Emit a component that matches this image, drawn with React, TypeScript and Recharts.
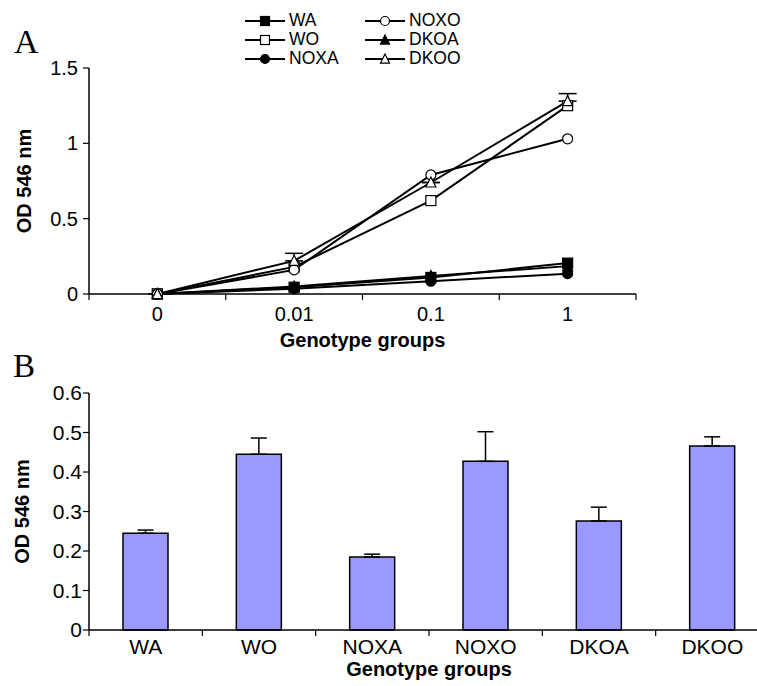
import { LineChart, Line, BarChart, Bar, XAxis, YAxis, ErrorBar, Legend } from 'recharts'

const concentrations = ['0', '0.01', '0.1', '1']
const waValues = [0, 0.045, 0.11, 0.205]
const woValues = [0, 0.18, 0.62, 1.25]
const noxaValues = [0, 0.035, 0.085, 0.135]
const noxoValues = [0, 0.16, 0.79, 1.03]
const dkoaValues = [0, 0.05, 0.12, 0.185]
const dkooValues = [0, 0.22, 0.74, 1.28]
const dkooErrors = [0, 0.05, 0, 0.05]
const odTicksA = [0, 0.5, 1, 1.5]

const genotypes = ['WA', 'WO', 'NOXA', 'NOXO', 'DKOA', 'DKOO']
const meanOd = [0.245, 0.445, 0.185, 0.427, 0.276, 0.466]
const sdOd = [0.008, 0.041, 0.007, 0.075, 0.035, 0.023]
const odTicksB = [0, 0.1, 0.2, 0.3, 0.4, 0.5, 0.6]

type Shape = 'square' | 'circle' | 'triangle'

const series: { key: string; values: number[]; shape: Shape; filled: boolean }[] = [
  { key: 'WA', values: waValues, shape: 'square', filled: true },
  { key: 'WO', values: woValues, shape: 'square', filled: false },
  { key: 'NOXA', values: noxaValues, shape: 'circle', filled: true },
  { key: 'NOXO', values: noxoValues, shape: 'circle', filled: false },
  { key: 'DKOA', values: dkoaValues, shape: 'triangle', filled: true },
  { key: 'DKOO', values: dkooValues, shape: 'triangle', filled: false },
]

const FONT = '"Liberation Sans", Arial, sans-serif'
const GREY = '#8a8a8a'

// category i sits at i + 0.5 on a numeric axis so tick marks can fall between groups
const lineData = concentrations.map((c, i) => {
  const row: Record<string, unknown> = { pos: i + 0.5, conc: c, dkooErr: [0, dkooErrors[i]] }
  series.forEach(s => { row[s.key] = s.values[i] })
  return row
})

const barData = genotypes.map((g, i) => ({ pos: i + 0.5, group: g, od: meanOd[i], err: [0, sdOd[i]] }))

const halfSteps = (n: number) => Array.from({ length: 2 * n + 1 }, (_, i) => i / 2)

function Marker({ cx, cy, shape, filled, size = 10 }: { cx: number; cy: number; shape: Shape; filled: boolean; size?: number }) {
  const fill = filled ? '#000' : '#fff'
  const h = size / 2
  if (shape === 'square') {
    return <rect x={cx - h} y={cy - h} width={size} height={size} fill={fill} stroke="#000" strokeWidth={1.2} />
  }
  if (shape === 'circle') {
    return <circle cx={cx} cy={cy} r={h} fill={fill} stroke="#000" strokeWidth={1.2} />
  }
  return (
    <polygon
      points={`${cx},${cy - h * 1.1} ${cx - h},${cy + h * 0.9} ${cx + h},${cy + h * 0.9}`}
      fill={fill}
      stroke="#000"
      strokeWidth={1.2}
    />
  )
}

function categoryTick(labels: string[], fontSize: number, labelOffset: number) {
  return function CategoryTick(props: any) {
    const { x, y, payload } = props
    const v = payload.value as number
    if (Number.isInteger(v)) {
      return <line x1={x} x2={x} y1={y} y2={y + 6} stroke="#000" strokeWidth={1.2} />
    }
    return (
      <text x={x} y={y + labelOffset} textAnchor="middle" dominantBaseline="central" fontSize={fontSize} fontFamily={FONT} fill="#000">
        {labels[Math.floor(v)]}
      </text>
    )
  }
}

function xTitle(text: string, offset: number) {
  return function XTitle(props: any) {
    const vb = props.viewBox
    return (
      <text x={vb.x + vb.width / 2} y={vb.y + offset} textAnchor="middle" dominantBaseline="central" fontSize={20} fontWeight="bold" fontFamily={FONT} fill="#000">
        {text}
      </text>
    )
  }
}

function yTitle(text: string, x: number) {
  return function YTitle(props: any) {
    const vb = props.viewBox
    const cy = vb.y + vb.height / 2
    return (
      <text x={x} y={cy} transform={`rotate(-90 ${x} ${cy})`} textAnchor="middle" dominantBaseline="central" fontSize={20} fontWeight="bold" fontFamily={FONT} fill="#000">
        {text}
      </text>
    )
  }
}

function LegendContent() {
  return (
    <div
      style={{
        display: 'grid',
        gridTemplateRows: 'repeat(3, 19px)',
        gridAutoFlow: 'column',
        gridAutoColumns: '120px',
        fontSize: 17.5,
        fontFamily: FONT,
        lineHeight: '19px',
      }}
    >
      {series.map(s => (
        <div key={s.key} style={{ display: 'flex', alignItems: 'center' }}>
          <svg width={41} height={14} style={{ display: 'block' }}>
            <line x1={0} x2={40} y1={7} y2={7} stroke="#000" strokeWidth={2} />
            <Marker cx={20} cy={7} shape={s.shape} filled={s.filled} size={9} />
          </svg>
          <span style={{ marginLeft: 3 }}>{s.key}</span>
        </div>
      ))}
    </div>
  )
}

function DoseChart() {
  return (
    <LineChart width={757} height={362} data={lineData} margin={{ top: 68, right: 121, left: 29, bottom: 28 }}>
      <XAxis
        dataKey="pos"
        type="number"
        domain={[0, concentrations.length]}
        ticks={halfSteps(concentrations.length)}
        interval={0}
        tickSize={0}
        tickMargin={0}
        tickLine={false}
        tick={categoryTick(concentrations, 20, 20)}
        axisLine={{ stroke: '#000', strokeWidth: 1.5 }}
        height={40}
        label={{ content: xTitle('Genotype groups', 46) }}
      />
      <XAxis xAxisId="top" orientation="top" dataKey="pos" type="number" domain={[0, concentrations.length]} height={0} tick={false} tickLine={false} axisLine={{ stroke: GREY, strokeWidth: 1.5 }} />
      <YAxis
        domain={[0, 1.5]}
        ticks={odTicksA}
        interval={0}
        width={60}
        tickSize={6}
        tickMargin={5}
        tick={{ fontSize: 20, fill: '#000', fontFamily: FONT }}
        tickLine={{ stroke: '#000', strokeWidth: 1.2 }}
        axisLine={{ stroke: '#000', strokeWidth: 1.5 }}
        label={{ content: yTitle('OD 546 nm', 24) }}
      />
      <YAxis yAxisId="right" orientation="right" domain={[0, 1]} width={0} tick={false} tickLine={false} axisLine={{ stroke: GREY, strokeWidth: 1.5 }} />
      <Legend content={LegendContent} layout="horizontal" verticalAlign="middle" wrapperStyle={{ top: 11, left: 245, width: 260, height: 57 }} />
      {series.map(s => (
        <Line
          key={s.key}
          dataKey={s.key}
          name={s.key}
          stroke="#000"
          strokeWidth={2}
          isAnimationActive={false}
          dot={(p: any) => <Marker key={`${s.key}-${p.index}`} cx={p.cx} cy={p.cy} shape={s.shape} filled={s.filled} />}
        >
          {s.key === 'DKOO' && <ErrorBar dataKey="dkooErr" direction="y" width={9} stroke="#000" strokeWidth={1.5} />}
        </Line>
      ))}
    </LineChart>
  )
}

function GroupChart() {
  return (
    <BarChart width={800} height={346} data={barData} margin={{ top: 53, right: 31, left: 29, bottom: 16 }}>
      <XAxis
        dataKey="pos"
        type="number"
        domain={[0, genotypes.length]}
        ticks={halfSteps(genotypes.length)}
        interval={0}
        tickSize={0}
        tickMargin={0}
        tickLine={false}
        tick={categoryTick(genotypes, 21, 16)}
        axisLine={{ stroke: '#000', strokeWidth: 1.5 }}
        height={40}
        label={{ content: xTitle('Genotype groups', 39) }}
      />
      <XAxis xAxisId="top" orientation="top" dataKey="pos" type="number" domain={[0, genotypes.length]} height={0} tick={false} tickLine={false} axisLine={{ stroke: GREY, strokeWidth: 1.5 }} />
      <YAxis
        domain={[0, 0.6]}
        ticks={odTicksB}
        interval={0}
        width={60}
        tickSize={6}
        tickMargin={1}
        tick={{ fontSize: 21, fill: '#000', fontFamily: FONT }}
        tickLine={{ stroke: '#000', strokeWidth: 1.2 }}
        axisLine={{ stroke: '#000', strokeWidth: 1.5 }}
        label={{ content: yTitle('OD 546 nm', 22) }}
      />
      <Bar dataKey="od" barSize={45} fill="#9999ff" stroke="#000" strokeWidth={1.5} isAnimationActive={false}>
        <ErrorBar dataKey="err" direction="y" width={8} stroke="#000" strokeWidth={1.5} />
      </Bar>
    </BarChart>
  )
}

export default function App() {
  return (
    <div style={{ position: 'absolute', left: 0, top: 0, width: 757, height: 686, overflow: 'hidden', background: '#fff', fontFamily: FONT }}>
      <div style={{ position: 'absolute', left: 0, top: 340 }}>
        <GroupChart />
      </div>
      <div style={{ position: 'absolute', left: 0, top: 0 }}>
        <DoseChart />
      </div>
      <svg width={757} height={686} style={{ position: 'absolute', left: 0, top: 0, pointerEvents: 'none' }}>
        <text x={14} y={53} fontSize={34} fontFamily='"Liberation Serif", "Times New Roman", serif' fill="#000">A</text>
        <text x={13} y={377} fontSize={33} fontFamily='"Liberation Serif", "Times New Roman", serif' fill="#000">B</text>
      </svg>
    </div>
  )
}
